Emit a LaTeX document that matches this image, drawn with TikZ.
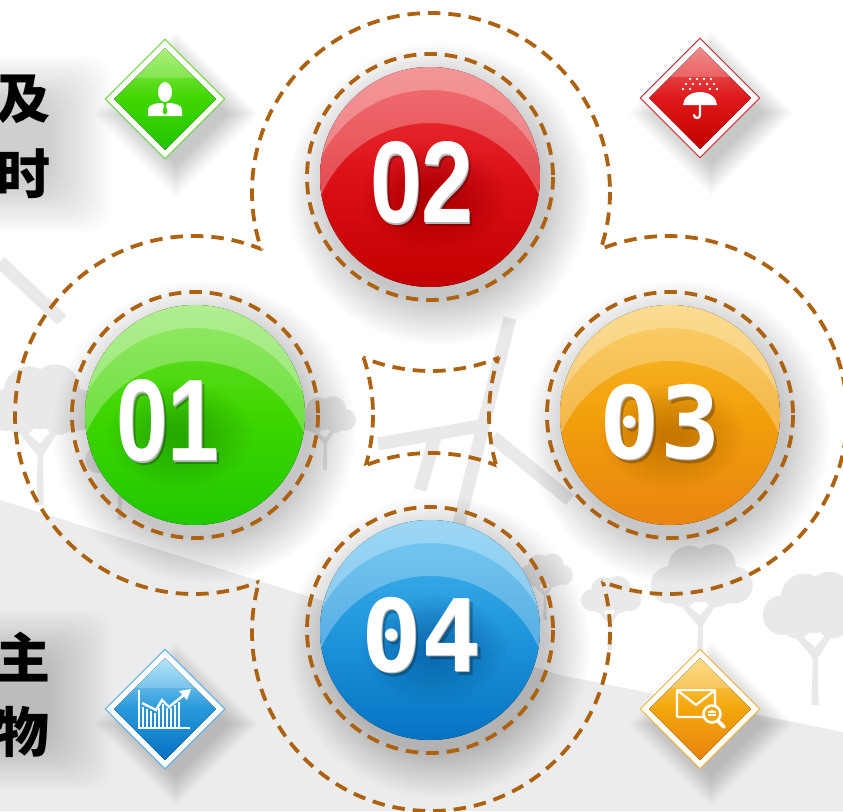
\documentclass[tikz,border=0pt]{standalone}
\usepackage{fontspec}
\usepackage{graphicx}
\usetikzlibrary{calc,shapes.geometric}
\newfontfamily\cjkfont{Noto Sans CJK SC}
\newfontfamily\monodigits{DejaVu Sans Mono}
\newfontfamily\blockdigits{Liberation Sans}

\definecolor{ringbrown}{RGB}{172,98,16}
\definecolor{groundgrey}{RGB}{236,236,236}
\definecolor{treegrey}{RGB}{233,233,233}
\definecolor{bladegrey}{RGB}{233,233,233}
% ball colours
\definecolor{redtop}{RGB}{236,58,62}
\definecolor{redmid}{RGB}{220,16,22}
\definecolor{redbot}{RGB}{194,0,0}
\definecolor{redglow}{RGB}{120,0,0}
\definecolor{greentop}{RGB}{110,224,48}
\definecolor{greenmid}{RGB}{62,214,0}
\definecolor{greenbot}{RGB}{32,200,0}
\definecolor{greenglow}{RGB}{20,110,0}
\definecolor{orangetop}{RGB}{248,190,48}
\definecolor{orangemid}{RGB}{242,160,12}
\definecolor{orangebot}{RGB}{233,132,16}
\definecolor{orangeglow}{RGB}{140,75,0}
\definecolor{bluetop}{RGB}{70,182,238}
\definecolor{bluemid}{RGB}{32,150,220}
\definecolor{bluebot}{RGB}{5,114,194}
\definecolor{blueglow}{RGB}{4,60,120}
% badge colours
\definecolor{gemgreenedge}{RGB}{96,210,48}
\definecolor{gemgreentop}{RGB}{150,236,90}
\definecolor{gemgreenmid}{RGB}{64,214,0}
\definecolor{gemgreenbot}{RGB}{34,196,0}
\definecolor{gemrededge}{RGB}{210,30,40}
\definecolor{gemredtop}{RGB}{236,110,110}
\definecolor{gemredmid}{RGB}{222,24,26}
\definecolor{gemredbot}{RGB}{194,0,0}
\definecolor{gemblueedge}{RGB}{70,170,232}
\definecolor{gembluetop}{RGB}{160,222,248}
\definecolor{gembluemid}{RGB}{40,152,218}
\definecolor{gembluebot}{RGB}{6,112,194}
\definecolor{gemorangeedge}{RGB}{242,176,48}
\definecolor{gemorangetop}{RGB}{252,212,106}
\definecolor{gemorangemid}{RGB}{243,166,12}
\definecolor{gemorangebot}{RGB}{232,130,14}

% glossy numbered ball: centre, top, middle, bottom, glow colour, glow centre
\newcommand\glassball[6]{%
  \fill[top color=#2, bottom color=#4, middle color=#3] (#1) circle (110);
  \begin{scope}
    \clip (#1) circle (110);
    \fill[white, opacity=0.27, even odd rule] (#1) circle (112) ($(#1)+(0,64)$) circle (118);
    \fill[white, opacity=0.27, even odd rule] (#1) circle (112) ($(#1)+(0,35)$) circle (122);
    \foreach \k in {1,...,16}
      \fill[#5, opacity=0.028] ($(#6)+(12,14)$) ellipse ({76-4*\k} and {56-3*\k});
  \end{scope}}

% soft shadow under a ball
\newcommand\ballhalo[1]{%
  \foreach \r in {106,108.5,...,152}
    \fill[black, opacity=0.0125] ($(#1)+(9,17)$) circle (\r);}

% diamond badge: name, centre, edge, top, middle, bottom
\newcommand\gem[6]{%
  \begin{scope}[shift={(#2)}]
    \foreach \r in {52,55,...,82}
      \fill[black, opacity=0.018] (11,{15-\r}) -- ({11+\r},15) -- (11,{15+\r}) -- ({11-\r},15) -- cycle;
  \end{scope}
  \node[diamond, minimum width=120, minimum height=120, inner sep=0,
        fill=white, draw=#3, line width=0.9] (#1) at (#2) {};
  \begin{scope}[shift={(#2)}]
    \fill[top color=#4, bottom color=#6, middle color=#5]
      (0,-51) -- (51,0) -- (0,51) -- (-51,0) -- cycle;
    \begin{scope}
      \clip (0,-51) -- (51,0) -- (0,51) -- (-51,0) -- cycle;
      \fill[white, opacity=0.2] (-60,-60) rectangle (60,-21);
    \end{scope}
  \end{scope}}

% background tree silhouette: x, y (foot), scale, colour
\newcommand\bgtree[4]{%
  \begin{scope}[shift={(#1,#2)}, scale=#3]
    \fill[#4] (-2,0) -- (-1.2,-26) -- (-13,-40) -- (-11.5,-42) -- (0,-32) -- (10,-44)
      -- (11.5,-42) -- (1.6,-26) -- (2,0) -- cycle;
    \fill[#4] (-18,-50) circle (11) (-6,-60) circle (13) (8,-61) circle (13) (20,-50) circle (11)
      (-10,-46) circle (9) (10,-46) circle (9) (0,-52) circle (12);
  \end{scope}}

\begin{document}
\begin{tikzpicture}[x=1pt, y=-1pt,
  dashring/.style={draw=ringbrown, line width=3.8, dash pattern=on 12.5 off 8},
  blade/.style={draw=bladegrey, line width=13},
  blockdig/.style={font=\blockdigits\bfseries\fontsize{116}{116}\selectfont, inner sep=0},
  monodig/.style={font=\monodigits\bfseries\fontsize{100}{100}\selectfont, inner sep=0},
  hanzi/.style={font=\cjkfont\bfseries\fontsize{54}{54}\selectfont, inner sep=0, anchor=east, text=black},
  icon/.style={white, line width=2.2}]
\useasboundingbox (0,0) rectangle (843,811);
\clip (0,0) rectangle (843,811);
\fill[white] (0,0) rectangle (843,811);

% ---------- landscape backdrop ----------
\draw[blade] (0,262) -- (62,320);
\draw[blade] (510,318) -- (440,600);
\draw[blade] (378,444) -- (480,426);
\draw[blade] (437,430) -- (420,490);
\draw[blade] (493,437) -- (570,500);
\bgtree{40}{505}{1.9}{treegrey}
\bgtree{120}{520}{1.2}{treegrey}
\bgtree{325}{470}{1.0}{treegrey}
\bgtree{700}{670}{1.7}{treegrey}
\bgtree{610}{650}{1.0}{treegrey}
\bgtree{815}{705}{1.8}{treegrey}
\bgtree{545}{620}{0.9}{treegrey}
\fill[groundgrey] (0,500) -- (560,675) -- (843,732) -- (843,811) -- (0,811) -- cycle;

% ---------- soft shadows ----------
\foreach \k in {0,...,15}
  \fill[black, opacity=0.01, rounded corners=24] (-40,{56+3*\k}) rectangle ({112-4*\k},{232-3*\k});
\foreach \k in {0,...,15}
  \fill[black, opacity=0.01, rounded corners=24] (-40,{610+3*\k}) rectangle ({112-4*\k},{790-3*\k});

\coordinate (c1) at (195,415);
\coordinate (c2) at (430,177);
\coordinate (c3) at (670,415);
\coordinate (c4) at (430,630);
\coordinate (o1) at (194,415);
\coordinate (o2) at (431,192);
\coordinate (o3) at (668,415);
\coordinate (o4) at (431,632);

\ballhalo{c1}
\ballhalo{c2}
\ballhalo{c3}
\ballhalo{c4}

% ---------- outer four-lobed dashed outline ----------
\begin{scope}[even odd rule]
  \clip (-30,-30) rectangle (880,850) (o2) circle (179) (o4) circle (179);
  \draw[dashring] (o1) circle (179);
  \draw[dashring] (o3) circle (179);
\end{scope}
\begin{scope}[even odd rule]
  \clip (-30,-30) rectangle (880,850) (o1) circle (179) (o3) circle (179);
  \draw[dashring] (o2) circle (179);
  \draw[dashring] (o4) circle (179);
\end{scope}

% ---------- rings round the balls ----------
\draw[dashring] (c1) circle (123);
\draw[dashring] (c2) circle (123);
\draw[dashring] (c3) circle (123);
\draw[dashring] (c4) circle (123);

% ---------- balls ----------
\coordinate (t1) at (168,421);
\coordinate (t2) at (422,183);
\coordinate (t3) at (660,422);
\coordinate (t4) at (422,635);
\glassball{c1}{greentop}{greenmid}{greenbot}{greenglow}{t1}
\glassball{c2}{redtop}{redmid}{redbot}{redglow}{t2}
\glassball{c3}{orangetop}{orangemid}{orangebot}{orangeglow}{t3}
\glassball{c4}{bluetop}{bluemid}{bluebot}{blueglow}{t4}

% ---------- numbers ----------
\node[blockdig, text=black, opacity=0.25] at ($(t1)+(3,4)$) {\scalebox{0.8}[1]{01}};
\node[blockdig, text=black!28] at ($(t1)+(0.9,1.2)$) {\scalebox{0.8}[1]{01}};
\node[blockdig, text=white] (n1) at (t1) {\scalebox{0.8}[1]{01}};
\node[blockdig, text=black, opacity=0.25] at ($(t2)+(3,4)$) {\scalebox{0.8}[1]{02}};
\node[blockdig, text=black!28] at ($(t2)+(0.9,1.2)$) {\scalebox{0.8}[1]{02}};
\node[blockdig, text=white] (n2) at (t2) {\scalebox{0.8}[1]{02}};
\node[monodig, text=black, opacity=0.25] at ($(t3)+(3,4)$) {03};
\node[monodig, text=black!28] at ($(t3)+(0.9,1.2)$) {03};
\node[monodig, text=white] (n3) at (t3) {03};
\node[monodig, text=black, opacity=0.25] at ($(t4)+(3,4)$) {04};
\node[monodig, text=black!28] at ($(t4)+(0.9,1.2)$) {04};
\node[monodig, text=white] (n4) at (t4) {04};

% ---------- corner badges ----------
\coordinate (d1) at (165,99);
\coordinate (d2) at (700,98);
\coordinate (d3) at (165,709);
\coordinate (d4) at (700,709);
\gem{g1}{d1}{gemgreenedge}{gemgreentop}{gemgreenmid}{gemgreenbot}
\gem{g2}{d2}{gemrededge}{gemredtop}{gemredmid}{gemredbot}
\gem{g3}{d3}{gemblueedge}{gembluetop}{gembluemid}{gembluebot}
\gem{g4}{d4}{gemorangeedge}{gemorangetop}{gemorangemid}{gemorangebot}

% person
\begin{scope}[shift={(g1.center)}]
  \fill[white] (0,-7) ellipse (7 and 10);
  \fill[white] (-17,17) -- (-17,11) .. controls (-17,6) and (-11,5) .. (-6,4)
    -- (6,4) .. controls (11,5) and (17,6) .. (17,11) -- (17,17) -- cycle;
  \fill[gemgreenmid] (-2,4) -- (2,4) -- (1,7) -- (2.5,13) -- (0,16) -- (-2.5,13) -- (-1,7) -- cycle;
\end{scope}

% umbrella in the rain
\begin{scope}[shift={(g2.center)}]
  \foreach \x in {-10,-3,4,11} \fill[white] (\x,-19) circle (1.4);
  \foreach \x in {-14,-7,0,7,14} \fill[white] (\x,-14) circle (1.4);
  \foreach \x in {-17,-10,10,17} \fill[white] (\x,-9) circle (1.4);
  \fill[white] (-17,7) arc[start angle=180, end angle=360, x radius=17, y radius=13] -- cycle;
  \draw[icon, line cap=round] (0,6) -- (0,17) arc[start angle=0, end angle=180, radius=3];
\end{scope}

% rising chart
\begin{scope}[shift={(g3.center)}]
  \draw[white, line width=1.6] (-26,-19) -- (-26,19) -- (25,19);
  \foreach \x/\t in {-22/-2.5,-18/-0.5,-14/1.5,-10/3.5,-6/-1,-2/-5,2/-1,6/-0.6,10/-3.9,14/-7.1}
    \draw[white, line width=1.8] (\x,19) -- (\x,\t);
  \draw[white, line width=2.4, line join=miter] (-23,-6) -- (-9,1) -- (-3,-9) -- (4,-2) -- (19,-14);
  \fill[white] (26,-20) -- (14,-18) -- (22,-9) -- cycle;
\end{scope}

% envelope and magnifier
\begin{scope}[shift={(g4.center)}]
  \draw[icon, rounded corners=1] (-23,-19) rectangle (15,8);
  \draw[icon, line join=round] (-23,-19) -- (-4,-4) -- (15,-19);
  \draw[white, line width=3.6, line cap=round] (17,11) -- (24,18);
  \filldraw[fill=gemorangemid, draw=white, line width=2.6] (12,5) circle (8.5);
  \draw[white, line width=1.2] (8,3) -- (16,3) (8,6) -- (16,6);
  \fill[white] (12,1.5) circle (1.2);
\end{scope}

% ---------- side captions ----------
\node[hanzi] (w1) at (51,99) {及};
\node[hanzi] (w2) at (51,174) {时};
\node[hanzi] (w3) at (51,657) {主};
\node[hanzi] (w4) at (50,732) {物};
\end{tikzpicture}
\end{document}
